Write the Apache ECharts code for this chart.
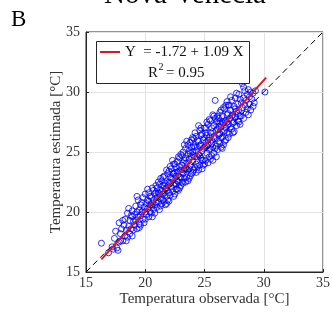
<!DOCTYPE html>
<html><head><meta charset="utf-8">
<script src="https://cdn.jsdelivr.net/npm/echarts@6/dist/echarts.min.js"></script>
<style>html,body{margin:0;padding:0;background:#fff}#c{width:333px;height:320px}</style>
</head><body><div id="c"></div>
<script>
var xTicks = [15, 20, 25, 30, 35];
var yTicks = [15, 20, 25, 30, 35];
var observed = [
16.3,16.9,17.2,17.4,17.6,17.7,17.8,17.9,17.5,17.8,17.3,17.9,
18.0,18.1,18.2,18.3,18.3,18.4,18.5,18.5,18.6,18.7,18.7,18.8,18.8,18.9,18.9,19.0,18.1,18.4,18.6,18.9,
19.0,19.1,19.1,19.2,19.2,19.3,19.3,19.4,19.4,19.5,19.5,19.6,19.6,19.7,19.7,19.8,19.8,19.9,19.9,20.0,20.0,19.3,19.6,19.8,19.5,
20.0,20.1,20.1,20.2,20.2,20.3,20.3,20.4,20.4,20.5,20.5,20.6,20.6,20.7,20.7,20.8,20.8,20.9,20.9,21.0,21.0,20.2,20.4,20.6,20.8,21.0,20.3,20.7,20.5,20.9,
21.1,21.1,21.2,21.2,21.3,21.3,21.4,21.4,21.5,21.5,21.6,21.6,21.7,21.7,21.8,21.8,21.9,21.9,22.0,22.0,21.1,21.3,21.5,21.6,21.8,21.9,21.2,21.4,21.7,22.0,21.5,21.8,21.3,21.6,21.9,
22.1,22.1,22.2,22.2,22.3,22.3,22.4,22.4,22.5,22.5,22.6,22.6,22.7,22.7,22.8,22.8,22.9,22.9,23.0,23.0,22.1,22.3,22.5,22.6,22.8,23.0,22.2,22.4,22.7,22.9,22.0,22.6,22.8,23.0,22.4,22.1,22.5,22.9,22.3,22.7,
23.1,23.1,23.2,23.2,23.3,23.3,23.4,23.4,23.5,23.5,23.6,23.6,23.7,23.7,23.8,23.8,23.9,23.9,24.0,24.0,23.1,23.3,23.5,23.6,23.8,24.0,23.2,23.4,23.7,23.9,23.5,23.8,23.2,23.6,24.0,23.4,23.7,23.1,23.9,23.3,
24.1,24.1,24.2,24.2,24.3,24.3,24.4,24.4,24.5,24.5,24.6,24.6,24.7,24.7,24.8,24.8,24.9,24.9,25.0,25.0,24.1,24.2,24.4,24.5,24.6,24.8,25.0,24.3,24.7,24.9,24.2,24.4,24.6,24.8,25.0,24.1,24.3,24.5,24.7,24.9,
25.1,25.1,25.2,25.2,25.3,25.3,25.4,25.4,25.5,25.5,25.6,25.6,25.7,25.7,25.8,25.8,25.9,25.9,26.0,26.0,25.1,25.2,25.3,25.4,25.5,25.6,25.7,25.8,25.9,26.0,25.2,25.4,25.6,25.8,25.1,25.3,25.5,25.7,25.9,26.0,
26.1,26.1,26.2,26.2,26.3,26.3,26.4,26.4,26.5,26.5,26.6,26.6,26.7,26.7,26.8,26.8,26.9,26.9,27.0,27.0,26.1,26.2,26.3,26.4,26.5,26.6,26.7,26.8,26.9,27.0,26.2,26.4,26.6,26.8,27.0,26.3,26.5,26.7,26.9,26.1,
27.1,27.1,27.2,27.2,27.3,27.3,27.4,27.4,27.5,27.5,27.6,27.6,27.7,27.7,27.8,27.8,27.9,27.9,28.0,28.0,27.2,27.4,27.6,27.8,28.0,27.3,27.5,27.7,27.9,27.1,
28.1,28.1,28.2,28.2,28.3,28.3,28.4,28.4,28.5,28.5,28.6,28.6,28.7,28.8,28.8,28.9,28.9,29.0,28.3,28.7,
29.1,29.2,29.3,29.1,30.1
];
var estimated = [
17.4,16.6,17.1,17.8,17.0,16.8,17.5,18.2,18.4,19.1,16.9,17.6,
18.6,17.6,18.9,19.4,18.0,18.5,19.9,17.9,18.8,19.3,18.2,19.7,18.6,20.1,18.0,19.2,19.3,17.6,20.3,19.6,
18.5,19.8,18.9,20.5,19.3,18.6,20.0,19.6,21.0,19.0,20.2,19.7,18.9,20.8,20.0,19.4,21.2,20.4,19.1,20.0,21.5,21.3,20.6,20.1,18.7,
19.4,20.7,19.8,21.0,20.3,19.6,21.6,20.6,20.0,21.2,19.9,20.5,22.0,21.0,20.2,21.5,19.9,20.8,22.2,21.2,20.4,21.9,21.3,19.6,20.6,22.0,20.9,21.8,20.6,21.6,
20.8,21.6,22.3,20.2,21.1,22.8,21.7,20.7,22.2,21.0,21.6,23.0,20.6,22.4,21.3,22.0,23.2,21.0,22.5,21.6,22.5,20.5,22.9,20.9,23.5,22.2,21.5,22.6,21.9,20.9,21.5,20.7,21.8,22.2,21.8,
22.9,21.4,22.1,23.6,21.7,22.7,23.2,21.3,22.4,24.0,23.0,21.9,22.6,24.2,23.4,21.8,22.9,24.5,23.5,22.2,23.8,24.3,21.5,23.7,22.5,24.8,22.8,22.3,23.3,23.8,23.4,22.3,24.6,22.9,24.0,22.4,23.3,22.0,23.2,21.9,
23.9,22.5,23.2,25.0,22.8,24.3,23.6,25.3,22.9,24.1,23.5,25.6,24.4,22.8,23.9,25.8,24.6,23.2,24.2,26.2,24.7,23.5,25.9,22.6,24.9,23.3,24.1,22.5,25.1,25.4,23.6,23.0,22.4,24.8,25.0,24.5,23.6,23.3,26.0,25.6,
24.7,23.5,25.4,26.6,24.0,25.1,26.0,23.8,24.8,27.2,25.5,23.9,24.5,26.4,25.1,23.6,26.0,24.3,25.4,27.0,26.1,23.7,25.4,23.5,26.8,26.5,24.0,26.3,25.6,25.3,24.6,24.6,24.7,24.3,26.2,25.5,23.3,25.9,27.0,23.9,
25.8,24.3,26.4,24.9,25.6,27.3,24.6,26.2,25.3,27.6,26.0,24.7,26.7,25.4,27.2,24.9,26.1,29.3,25.5,27.5,27.0,25.5,24.1,27.7,24.4,27.0,24.3,26.3,25.3,26.8,27.5,25.2,25.7,28.0,26.6,26.0,26.6,28.1,27.8,24.6,
25.2,26.9,27.8,25.9,26.5,28.3,25.4,27.1,26.2,28.0,27.4,25.6,26.8,28.6,27.6,26.0,28.1,26.6,27.3,28.9,28.0,26.4,27.4,28.5,25.3,28.7,25.9,28.9,27.5,26.2,27.1,26.2,26.7,27.0,28.2,25.7,27.5,27.6,29.2,27.6,
27.8,26.5,28.5,27.1,29.3,26.9,28.1,27.4,28.8,26.7,27.9,29.5,28.4,27.2,29.0,27.6,28.5,29.8,28.0,29.4,29.6,26.6,28.6,28.2,27.3,28.0,27.5,29.9,27.5,28.9,
29.1,28.0,30.7,28.7,29.5,27.8,28.9,30.1,29.3,28.3,29.8,28.6,30.2,29.0,29.6,28.5,30.0,29.4,30.4,28.1,
29.9,29.1,30.1,28.8,30.0
];
var fitX = [16.3, 30.2];
var fitY = [16.05, 31.2];
var refX = [15, 35];
var refY = [15, 35];
var titleText = 'Nova Venecia';
var panelText = 'B';
var legendLine1 = 'Y  = -1.72 + 1.09 X';
var legendR = 'R';
var legendSup = '2';
var legendR2 = '= 0.95';

var pts = observed.map(function(x, i){ return [x, estimated[i]]; });
var fitPts = fitX.map(function(x, i){ return [x, fitY[i]]; });
var refPts = refX.map(function(x, i){ return [x, refY[i]]; });

var font = 'Liberation Serif, Times New Roman, serif';
var axisCol = '#262626';
var chart = echarts.init(document.getElementById('c'));
function axisCommon(name, ticks, isY){
  return {
    type: 'value', min: 15, max: 35, interval: 5,
    name: name, nameLocation: 'middle', nameGap: isY ? 22 : 20,
    nameMoveOverlap: false,
    nameTextStyle: {fontFamily: font, fontSize: 15, color: '#333'},
    axisLine: {show: true, lineStyle: {color: axisCol, width: 1}},
    axisTick: {show: true, inside: true, length: 3, lineStyle: {color: axisCol}},
    axisLabel: {fontFamily: font, fontSize: 14, color: '#333', margin: isY ? 6 : 4,
      formatter: function(v){ return ticks.indexOf(v) >= 0 ? String(v) : ''; }},
    splitLine: {show: true, lineStyle: {color: '#e3e3e3', width: 1}}
  };
}
chart.setOption({
  animation: false,
  grid: {left: 86, right: 6, top: 32, bottom: 48, show: true, borderColor: axisCol, borderWidth: 1, backgroundColor: '#fff'},
  xAxis: axisCommon('Temperatura observada [°C]', xTicks, false),
  yAxis: axisCommon('Temperatura estimada [°C]', yTicks, true),
  series: [
    {type: 'scatter', data: pts, symbol: 'circle', symbolSize: 6,
     itemStyle: {color: 'rgba(255,255,255,0)', borderColor: '#0000ff', borderWidth: 1}, z: 2},
    {type: 'line', data: refPts, showSymbol: false, symbol: 'none',
     lineStyle: {color: '#000', width: 1, type: [6, 4]}, z: 3},
    {type: 'line', data: fitPts, showSymbol: false, symbol: 'none',
     lineStyle: {color: '#d7191c', width: 2}, z: 4}
  ],
  graphic: [
    {type: 'text', x: 185, y: 10, style: {text: titleText, align: 'center', verticalAlign: 'bottom', fontFamily: font, fontSize: 29, fill: '#000'}},
    {type: 'text', x: 11, y: 8, style: {text: panelText, fontFamily: font, fontSize: 23, fill: '#000'}},
    {type: 'rect', z: 100, shape: {x: 96.5, y: 41.5, width: 153, height: 42}, style: {fill: '#fff', stroke: axisCol, lineWidth: 1}},
    {type: 'line', z: 101, shape: {x1: 100, y1: 52, x2: 120, y2: 52}, style: {stroke: '#d7191c', lineWidth: 2}},
    {type: 'text', z: 101, x: 125, y: 51.6, style: {text: legendLine1, verticalAlign: 'middle', fontFamily: font, fontSize: 15, fill: '#111'}},
    {type: 'text', z: 101, x: 148, y: 72.6, style: {text: legendR, verticalAlign: 'middle', fontFamily: font, fontSize: 15, fill: '#111'}},
    {type: 'text', z: 101, x: 158.5, y: 67, style: {text: legendSup, verticalAlign: 'middle', fontFamily: font, fontSize: 10, fill: '#111'}},
    {type: 'text', z: 101, x: 166, y: 72.6, style: {text: legendR2, verticalAlign: 'middle', fontFamily: font, fontSize: 15, fill: '#111'}}
  ]
});
</script></body></html>
